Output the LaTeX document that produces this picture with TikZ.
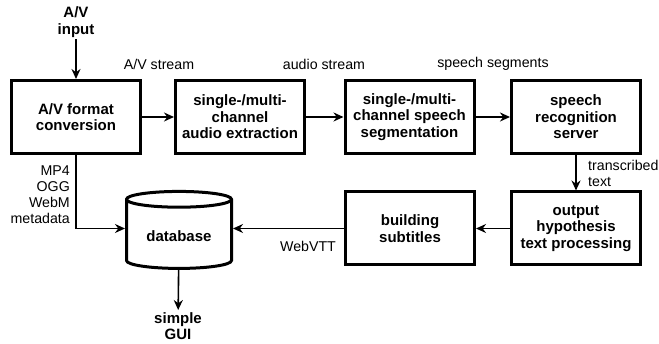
\documentclass[tikz,border=0pt]{standalone}
\usepackage{fontspec}
\setmainfont{Liberation Sans}
\usetikzlibrary{arrows.meta,shapes.geometric}
\tikzset{
  blk/.style={draw,line width=3pt,minimum width=129pt,minimum height=73pt,align=center,inner sep=2pt,font=\fontsize{15}{16.5}\selectfont\bfseries},
  lbl/.style={align=center,inner sep=2pt,font=\fontsize{14.2}{16}\selectfont},
  cn/.style={->,line width=1.6pt},
}
\begin{document}
\begin{tikzpicture}[x=1pt,y=1pt,>={Stealth[length=10pt,width=9pt]}]
	\useasboundingbox (0,0) rectangle (659,343);
	% top row
	\node[blk] (conv) at (76,226) {A/V format\\conversion};
	\node[blk] (extr) at (240,226) {single-/multi-\\channel\\audio extraction};
	\node[blk] (segm) at (409.5,226) {single-/multi-\\channel speech\\segmentation};
	\node[blk] (asr) at (576,226) {speech\\recognition\\server};
	% bottom row
	\node[blk] (subt) at (410,114.5) {building\\subtitles};
	\node[blk] (hyp) at (576,114.5) {output\\hypothesis\\text processing};
	\node[cylinder,shape border rotate=90,aspect=0.22,draw,fill=white,line width=3pt,minimum width=105pt,minimum height=77pt,font=\fontsize{15}{16.5}\selectfont\bfseries] (db) at (179,107) {database};
	% in and out
	\node[lbl,font=\fontsize{15}{16.5}\selectfont\bfseries] (in) at (76,321) {A/V\\input};
	\node[lbl,font=\fontsize{15}{16.5}\selectfont\bfseries] (gui) at (178,17) {simple\\GUI};
	% labels
	\node[lbl] (l1) at (159,279) {A/V stream};
	\node[lbl] (l2) at (324,279) {audio stream};
	\node[lbl] (l3) at (493,279) {speech segments};
	\node[lbl,align=right,anchor=east] (l4) at (72,148) {MP4\\OGG\\WebM\\metadata};
	\node[lbl,align=left,anchor=west] (l5) at (586,170) {transcribed\\text};
	\node[lbl] (l6) at (308,97) {WebVTT};
	\coordinate (c1) at (conv.south |- subt.west);
	\coordinate (c2) at (db.west |- subt.west);
	\coordinate (c3) at (db.east |- subt.west);
	\draw[cn] (in) -- (conv);
	\draw[cn] (conv) -- (extr);
	\draw[cn] (extr) -- (segm);
	\draw[cn] (segm) -- (asr);
	\draw[cn] (asr) -- (hyp);
	\draw[cn] (hyp) -- (subt);
	\draw[cn] (subt.west) -- (c3);
	\draw[cn] (conv.south) -- (c1) -- (c2);
	\draw[cn] (db) -- (gui);
\end{tikzpicture}
\end{document}
